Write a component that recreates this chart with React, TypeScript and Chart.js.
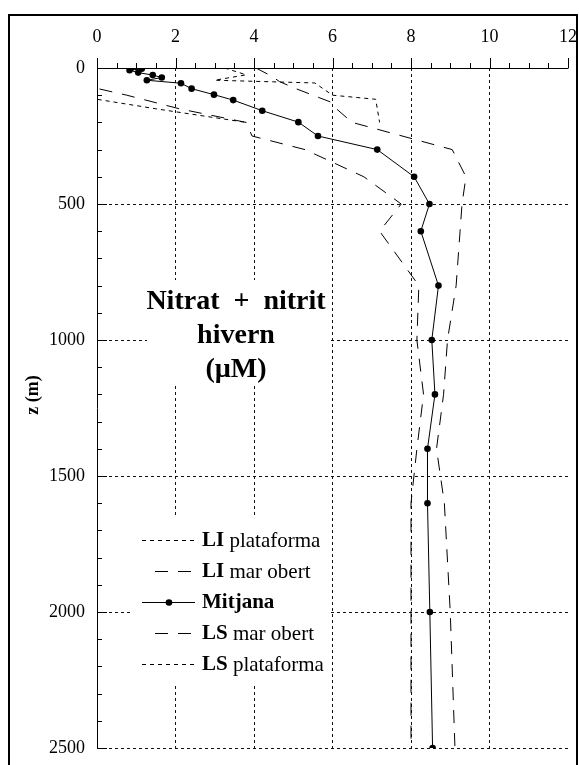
import React, { useEffect, useRef } from 'react';
import { Chart, registerables } from 'chart.js';

Chart.register(...registerables);

const SERIF = '"Liberation Serif", "Times New Roman", serif';

// Fondària (m) i concentració de nitrat + nitrit (µM) per a cada perfil
const liPlataformaDepth = [0, 115, 150, 200];
const liPlataformaValue = [0, 0, 1.5, 3.8];

const liMarObertDepth = [0, 75, 100, 150, 200, 250, 300, 400, 500, 600, 800, 1000, 1200, 1400, 1600, 2000, 2500];
const liMarObertValue = [0, 0, 0.76, 2.1, 3.8, 3.95, 5.3, 6.8, 7.75, 7.2, 8.2, 8.15, 8.32, 8.15, 8.0, 8.0, 8.0];

const mitjanaDepth = [0, 3, 8, 17, 26, 35, 45, 56, 76, 98, 118, 157, 199, 250, 300, 400, 500, 600, 800, 1000, 1200, 1400, 1600, 2000, 2500];
const mitjanaValue = [0.87, 1.14, 0.83, 1.05, 1.42, 1.65, 1.27, 2.14, 2.41, 2.98, 3.47, 4.21, 5.13, 5.63, 7.14, 8.08, 8.47, 8.25, 8.7, 8.53, 8.61, 8.42, 8.42, 8.48, 8.55];

const lsMarObertDepth = [0, 30, 50, 75, 100, 125, 150, 200, 300, 400, 500, 600, 800, 1000, 1200, 1400, 1600, 2000, 2500];
const lsMarObertValue = [4.05, 4.45, 4.65, 5.05, 5.5, 5.95, 6.1, 6.5, 9.05, 9.4, 9.3, 9.25, 9.15, 8.93, 8.83, 8.65, 8.85, 9.0, 9.12];

const lsPlataformaDepth = [0, 25, 45, 55, 100, 115, 200];
const lsPlataformaValue = [3.25, 3.8, 3.0, 5.55, 6.0, 7.1, 7.2];

const seriesLabels = ['LI plataforma', 'LI mar obert', 'Mitjana', 'LS mar obert', 'LS plataforma'];

const xTickLabels = [0, 2, 4, 6, 8, 10, 12];
const yTickLabels = [0, 500, 1000, 1500, 2000, 2500];
const xMinorStep = 0.5;
const yMinorStep = 100;

const titleLines = ['Nitrat  +  nitrit', 'hivern', '(\u00b5M)'];
const axisTitle = 'z (m)';

const SHORT_DASH = [4, 4];
const LONG_DASH = [13, 10];

const toPoints = (depth: number[], value: number[]) =>
  depth.map((d, i) => ({ x: value[i], y: d }));

const decor = {
  id: 'nitratDecor',
  beforeDatasetsDraw(chart: any) {
    const ctx = chart.ctx;
    ctx.save();
    ctx.fillStyle = '#fff';
    // boxes behind the title and the legend hide the grid
    ctx.fillRect(147, 280, 183, 105);
    ctx.fillRect(133, 517, 197, 168);
    ctx.fillStyle = '#000';
    ctx.font = `bold 28px ${SERIF}`;
    ctx.textAlign = 'center';
    ctx.textBaseline = 'alphabetic';
    titleLines.forEach((t, i) => ctx.fillText(t, 236, 309 + i * 34));
    ctx.restore();
  },
  afterDatasetsDraw(chart: any) {
    const ctx = chart.ctx;
    const xs = chart.scales.x;
    const ys = chart.scales.y;
    const { left, top } = chart.chartArea;
    ctx.save();
    ctx.strokeStyle = '#000';
    ctx.lineWidth = 1;
    ctx.setLineDash([]);

    // axis lines
    const xEnd = Math.round(xs.getPixelForValue(xs.max)) + 0.5;
    const yEnd = Math.round(ys.getPixelForValue(ys.max)) + 0.5;
    ctx.beginPath();
    ctx.moveTo(left + 0.5, top + 0.5);
    ctx.lineTo(xEnd, top + 0.5);
    ctx.moveTo(left + 0.5, top + 0.5);
    ctx.lineTo(left + 0.5, yEnd);
    ctx.stroke();

    // top axis ticks (outside), major at each label, minor in between
    ctx.beginPath();
    const xMajor = xTickLabels[1] - xTickLabels[0];
    for (let v = xs.min; v <= xs.max + 1e-9; v += xMinorStep) {
      const px = Math.round(xs.getPixelForValue(v)) + 0.5;
      const major = Math.abs(v / xMajor - Math.round(v / xMajor)) < 1e-6;
      ctx.moveTo(px, top);
      ctx.lineTo(px, top - (major ? 10 : 5));
    }
    // depth axis ticks (inside)
    const yMajor = yTickLabels[1] - yTickLabels[0];
    for (let z = ys.min; z <= ys.max + 1e-9; z += yMinorStep) {
      const py = Math.round(ys.getPixelForValue(z)) + 0.5;
      const major = z % yMajor === 0;
      ctx.moveTo(left, py);
      ctx.lineTo(left + (major ? 10 : 5), py);
    }
    ctx.stroke();

    // legend
    const datasets = chart.data.datasets;
    datasets.forEach((ds: any, i: number) => {
      const y = 540 + i * 31;
      const dash = ds.borderDash || [];
      const x0 = dash.length && dash[0] > 6 ? 155 : 142;
      ctx.setLineDash(dash);
      ctx.beginPath();
      ctx.moveTo(x0, y + 0.5);
      ctx.lineTo(195, y + 0.5);
      ctx.stroke();
      ctx.setLineDash([]);
      if (ds.pointRadius > 0) {
        ctx.beginPath();
        ctx.arc(169, y + 0.5, ds.pointRadius, 0, Math.PI * 2);
        ctx.fillStyle = '#000';
        ctx.fill();
      }
      const label: string = ds.label;
      const sp = label.indexOf(' ');
      const boldPart = sp > 0 ? label.slice(0, sp) : label;
      const rest = sp > 0 ? label.slice(sp) : '';
      ctx.fillStyle = '#000';
      ctx.textAlign = 'left';
      ctx.textBaseline = 'middle';
      ctx.font = `bold 21px ${SERIF}`;
      ctx.fillText(boldPart, 202, y + 1);
      const w = ctx.measureText(boldPart).width;
      ctx.font = `21px ${SERIF}`;
      ctx.fillText(rest, 202 + w, y + 1);
    });

    // depth axis title
    ctx.save();
    ctx.translate(33, 395);
    ctx.rotate(-Math.PI / 2);
    ctx.font = `bold 18px ${SERIF}`;
    ctx.textAlign = 'center';
    ctx.textBaseline = 'middle';
    ctx.fillText(axisTitle, 0, 0);
    ctx.restore();

    // outer frame
    ctx.lineWidth = 2;
    ctx.strokeRect(9, 15, 568, 800);
    ctx.restore();
  },
};

export default function App() {
  const canvasRef = useRef<HTMLCanvasElement | null>(null);

  useEffect(() => {
    const canvas = canvasRef.current;
    if (!canvas) return;

    const profiles = [
      { depth: liPlataformaDepth, value: liPlataformaValue, dash: SHORT_DASH, marker: 0 },
      { depth: liMarObertDepth, value: liMarObertValue, dash: LONG_DASH, marker: 0 },
      { depth: mitjanaDepth, value: mitjanaValue, dash: [] as number[], marker: 3.3 },
      { depth: lsMarObertDepth, value: lsMarObertValue, dash: LONG_DASH, marker: 0 },
      { depth: lsPlataformaDepth, value: lsPlataformaValue, dash: SHORT_DASH, marker: 0 },
    ];

    const gridColor = (edgeValues: number[]) => (ctx: any) =>
      ctx.tick && edgeValues.includes(ctx.tick.value) ? 'rgba(0,0,0,0)' : '#111';

    const chart = new Chart(canvas, {
      type: 'scatter',
      data: {
        datasets: profiles.map((p, i) => ({
          label: seriesLabels[i],
          data: toPoints(p.depth, p.value),
          showLine: true,
          borderColor: '#000',
          backgroundColor: '#000',
          borderWidth: 1,
          borderDash: p.dash,
          pointRadius: p.marker,
          pointHoverRadius: p.marker,
          pointBackgroundColor: '#000',
          pointBorderColor: '#000',
          pointBorderWidth: 0,
          tension: 0,
        })),
      },
      options: {
        animation: false,
        responsive: false,
        devicePixelRatio: 1,
        events: [],
        layout: { padding: { top: 0, left: 0, right: 11, bottom: 17 } },
        plugins: {
          legend: { display: false },
          tooltip: { enabled: false },
          title: { display: false },
        },
        scales: {
          x: {
            type: 'linear',
            position: 'top',
            min: xTickLabels[0],
            max: xTickLabels[xTickLabels.length - 1],
            afterBuildTicks: (scale: any) => {
              scale.ticks = xTickLabels.map((v) => ({ value: v }));
            },
            ticks: {
              font: { family: SERIF, size: 18 },
              color: '#000',
              padding: 20,
              maxRotation: 0,
              callback: (v: any) => String(v),
            },
            grid: { drawTicks: false, color: gridColor([0, 12]), lineWidth: 1 },
            border: { display: false, dash: [3, 3] },
            afterFit: (scale: any) => {
              scale.height = 68;
              scale.paddingLeft = 0;
              scale.paddingRight = 0;
            },
          },
          y: {
            type: 'linear',
            reverse: true,
            min: yTickLabels[0],
            max: yTickLabels[yTickLabels.length - 1],
            afterBuildTicks: (scale: any) => {
              scale.ticks = yTickLabels.map((v) => ({ value: v }));
            },
            ticks: {
              font: { family: SERIF, size: 18 },
              color: '#000',
              padding: 12,
              callback: (v: any) => String(v),
            },
            grid: { drawTicks: false, color: gridColor([0]), lineWidth: 1 },
            border: { display: false, dash: [3, 3] },
            afterFit: (scale: any) => {
              scale.width = 97;
              scale.paddingTop = 0;
              scale.paddingBottom = 0;
            },
          },
        },
      },
      plugins: [decor],
    } as any);

    return () => chart.destroy();
  }, []);

  return (
    <div style={{ position: 'fixed', left: 0, top: 0, width: 579, height: 765, background: '#fff' }}>
      <canvas ref={canvasRef} width={579} height={765} style={{ display: 'block' }} />
    </div>
  );
}
